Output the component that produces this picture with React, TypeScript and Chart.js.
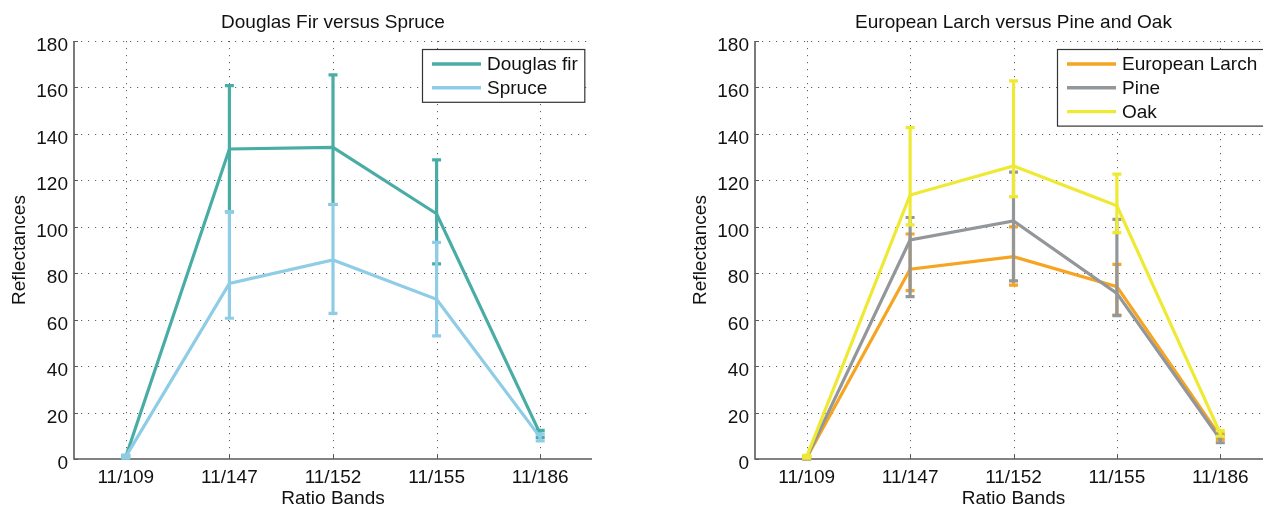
import React, { useEffect, useRef } from "react";
import { Chart, registerables } from "chart.js";

Chart.register(...registerables);

// ---------- data ----------
const bands = ["11/109", "11/147", "11/152", "11/155", "11/186"];
const yTicks = [0, 20, 40, 60, 80, 100, 120, 140, 160, 180];

const douglasFir = [1, 133.5, 134.2, 105.6, 10.8];
const douglasFirLow = [0.4, 106.4, 109.6, 84.0, 9.3];
const douglasFirHigh = [1.6, 160.8, 165.4, 128.8, 12.3];

const spruce = [1, 75.6, 85.7, 68.8, 9.3];
const spruceLow = [0.4, 60.6, 62.7, 53.0, 7.8];
const spruceHigh = [1.6, 106.5, 109.7, 93.3, 10.8];

const larch = [0.5, 81.7, 87.1, 74.2, 9.6];
const larchLow = [0, 72.5, 74.9, 62.0, 8.4];
const larchHigh = [1.0, 96.9, 100.0, 83.8, 10.8];

const pine = [0.5, 94.3, 102.5, 71.3, 8.5];
const pineLow = [0, 69.9, 76.7, 61.7, 7.0];
const pineHigh = [1.0, 104.0, 123.5, 103.2, 10.0];

const oak = [1, 113.7, 126.2, 109.0, 11.0];
const oakLow = [0.4, 100.8, 113.0, 97.5, 9.8];
const oakHigh = [1.6, 142.7, 162.8, 122.7, 12.2];

const TEAL = "#4aada5";
const LIGHTBLUE = "#8ecde5";
const ORANGE = "#f6a523";
const GRAY = "#93979a";
const YELLOW = "#eeea34";

const FONT = "'Liberation Sans', Arial, Helvetica, sans-serif";
const FS = 19;

type Series = { label: string; color: string; values: number[]; low: number[]; high: number[] };

const leftSeries: Series[] = [
  { label: "Douglas fir", color: TEAL, values: douglasFir, low: douglasFirLow, high: douglasFirHigh },
  { label: "Spruce", color: LIGHTBLUE, values: spruce, low: spruceLow, high: spruceHigh },
];

const rightSeries: Series[] = [
  { label: "European Larch", color: ORANGE, values: larch, low: larchLow, high: larchHigh },
  { label: "Pine", color: GRAY, values: pine, low: pineLow, high: pineHigh },
  { label: "Oak", color: YELLOW, values: oak, low: oakLow, high: oakHigh },
];

const AXIS = "#5a5a5a";

const panelPlugin = {
  id: "panelDecor",
  beforeDatasetsDraw(chart: any) {
    const { ctx, chartArea: ca } = chart;
    const xs = chart.scales.x;
    const ys = chart.scales.y;
    ctx.save();
    // dotted grid
    ctx.strokeStyle = "rgba(80,80,80,0.9)";
    ctx.lineWidth = 1;
    ctx.setLineDash([1.2, 5.8]);
    yTicks.forEach((v) => {
      if (v === 0) return;
      const y = Math.round(ys.getPixelForValue(v)) + 0.5;
      ctx.beginPath();
      ctx.moveTo(ca.left, y);
      ctx.lineTo(ca.right, y);
      ctx.stroke();
    });
    bands.forEach((_b, i) => {
      const x = Math.round(xs.getPixelForValue(i)) + 0.5;
      ctx.beginPath();
      ctx.moveTo(x, ca.top);
      ctx.lineTo(x, ca.bottom);
      ctx.stroke();
    });
    ctx.setLineDash([]);
    // axes
    ctx.strokeStyle = AXIS;
    ctx.lineWidth = 1.6;
    ctx.beginPath();
    ctx.moveTo(ca.left, ca.top);
    ctx.lineTo(ca.left, ca.bottom);
    ctx.lineTo(ca.right, ca.bottom);
    ctx.stroke();
    // inward ticks
    ctx.lineWidth = 1;
    yTicks.forEach((v) => {
      const y = Math.round(ys.getPixelForValue(v)) + 0.5;
      ctx.beginPath();
      ctx.moveTo(ca.left, y);
      ctx.lineTo(ca.left + 4, y);
      ctx.stroke();
    });
    bands.forEach((_b, i) => {
      const x = Math.round(xs.getPixelForValue(i)) + 0.5;
      ctx.beginPath();
      ctx.moveTo(x, ca.bottom);
      ctx.lineTo(x, ca.bottom - 4);
      ctx.stroke();
    });
    ctx.restore();
  },
  afterDatasetDraw(chart: any, args: any, opts: any) {
    const s: Series = opts.series[args.index];
    if (!s) return;
    const { ctx } = chart;
    const xs = chart.scales.x;
    const ys = chart.scales.y;
    ctx.save();
    ctx.strokeStyle = s.color;
    ctx.lineWidth = 3.2;
    ctx.lineCap = "butt";
    s.values.forEach((_v, i) => {
      const x = xs.getPixelForValue(i);
      const yl = ys.getPixelForValue(s.low[i]);
      const yh = ys.getPixelForValue(s.high[i]);
      ctx.beginPath();
      ctx.moveTo(x, yl);
      ctx.lineTo(x, yh);
      ctx.stroke();
      ctx.beginPath();
      ctx.moveTo(x - 4.5, yl);
      ctx.lineTo(x + 4.5, yl);
      ctx.moveTo(x - 4.5, yh);
      ctx.lineTo(x + 4.5, yh);
      ctx.stroke();
    });
    ctx.restore();
  },
  afterDraw(chart: any, _a: any, opts: any) {
    const { ctx, chartArea: ca } = chart;
    const xs = chart.scales.x;
    const ys = chart.scales.y;
    ctx.save();
    ctx.fillStyle = "#111";
    ctx.font = `${FS}px ${FONT}`;
    // title
    ctx.textAlign = "center";
    ctx.textBaseline = "alphabetic";
    ctx.fillText(opts.title, (ca.left + ca.right) / 2, 28);
    // x tick labels
    bands.forEach((b, i) => {
      ctx.fillText(b, xs.getPixelForValue(i), ca.bottom + 24);
    });
    // x title
    ctx.fillText(opts.xTitle, (ca.left + ca.right) / 2, ca.bottom + 45);
    // y tick labels
    ctx.textAlign = "right";
    yTicks.forEach((v) => {
      ctx.fillText(String(v), ca.left - 6, ys.getPixelForValue(v) + 10);
    });
    // y title
    ctx.save();
    ctx.translate(ca.left - 49, (ca.top + ca.bottom) / 2);
    ctx.rotate(-Math.PI / 2);
    ctx.textAlign = "center";
    ctx.fillText(opts.yTitle, 0, 0);
    ctx.restore();
    // legend
    const series: Series[] = opts.series;
    const maxW = Math.max(...series.map((s) => ctx.measureText(s.label).width));
    const boxW = 64.5 + maxW + 7;
    const rowH = 23.8;
    const boxH = 29 + (series.length - 1) * rowH;
    const bx = Math.round(ca.right - 8 - boxW) + 0.5;
    const by = Math.round(ca.top + 7.5) + 0.5;
    ctx.fillStyle = "#fff";
    ctx.fillRect(bx, by, boxW, boxH);
    ctx.strokeStyle = "#333";
    ctx.lineWidth = 1.2;
    ctx.strokeRect(bx, by, boxW, boxH);
    series.forEach((s, i) => {
      const ry = by + 14.5 + i * rowH;
      ctx.strokeStyle = s.color;
      ctx.lineWidth = 3.4;
      ctx.beginPath();
      ctx.moveTo(bx + 9.5, ry);
      ctx.lineTo(bx + 58.5, ry);
      ctx.stroke();
      ctx.fillStyle = "#111";
      ctx.textAlign = "left";
      ctx.textBaseline = "middle";
      ctx.fillText(s.label, bx + 64.5, ry + 1);
    });
    ctx.restore();
  },
};

function makeChart(canvas: HTMLCanvasElement, series: Series[], title: string, padLeft: number, padRight: number) {
  return new Chart(canvas, {
    type: "line",
    data: {
      labels: bands,
      datasets: series.map((s, i) => ({
        label: s.label,
        data: s.values,
        borderColor: s.color,
        backgroundColor: s.color,
        borderWidth: 3.2,
        pointRadius: 0,
        tension: 0,
        fill: false,
        order: series.length - 1 - i,
      })),
    },
    options: {
      responsive: false,
      animation: false,
      events: [],
      layout: { padding: { left: padLeft, right: padRight, top: 41, bottom: 0 } },
      plugins: {
        legend: { display: false },
        tooltip: { enabled: false },
        title: { display: false },
        panelDecor: { title, series, xTitle: "Ratio Bands", yTitle: "Reflectances" },
      } as any,
      scales: {
        x: {
          type: "category",
          offset: true,
          grid: { display: false },
          border: { display: false },
          ticks: { display: false },
          afterFit(s: any) {
            s.height = 47;
          },
        },
        y: {
          min: 0,
          max: 180,
          ticks: { display: false, stepSize: 20 },
          grid: { display: false },
          border: { display: false },
          afterFit(s: any) {
            s.width = 74;
          },
        },
      },
    },
    plugins: [panelPlugin],
  });
}

export default function App() {
  const leftRef = useRef<HTMLCanvasElement>(null);
  const rightRef = useRef<HTMLCanvasElement>(null);

  useEffect(() => {
    const c1 = makeChart(leftRef.current!, leftSeries, "Douglas Fir versus Spruce", 0, 48);
    const c2 = makeChart(rightRef.current!, rightSeries, "European Larch versus Pine and Oak", 41, 8);
    return () => {
      c1.destroy();
      c2.destroy();
    };
  }, []);

  return (
    <div
      style={{
        position: "fixed",
        left: 0,
        top: 0,
        width: 1263,
        height: 506,
        overflow: "hidden",
        background: "#fff",
      }}
    >
      <canvas ref={leftRef} width={640} height={506} style={{ position: "absolute", left: 0, top: 0 }} />
      <canvas ref={rightRef} width={640} height={506} style={{ position: "absolute", left: 640, top: 0 }} />
    </div>
  );
}
